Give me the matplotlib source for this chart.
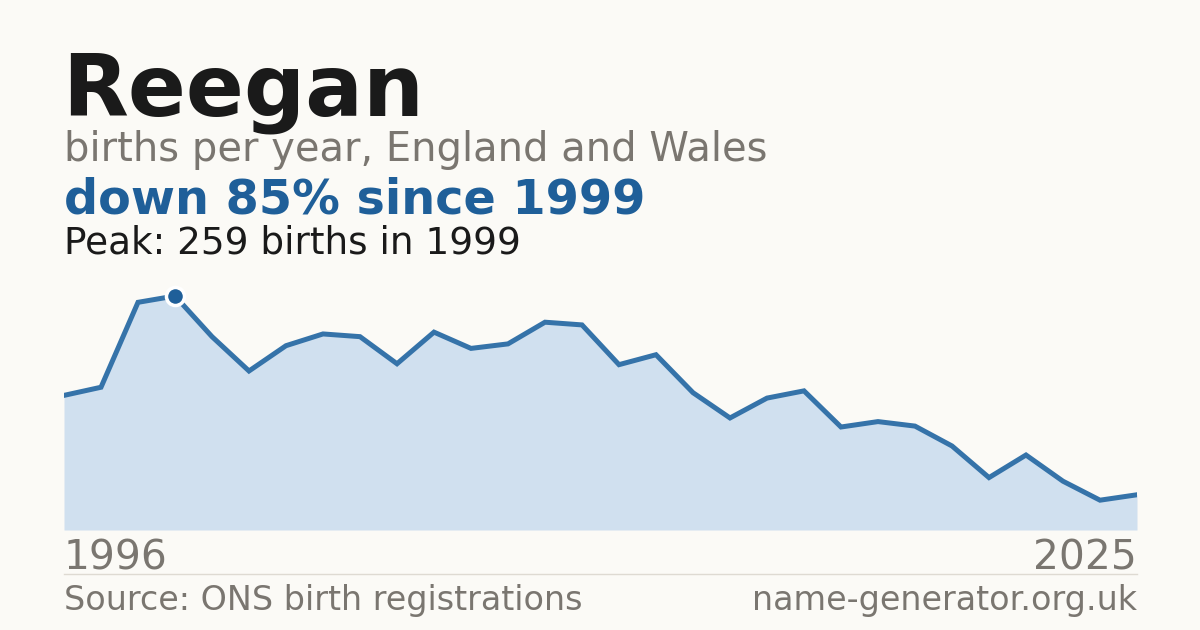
import matplotlib
matplotlib.use("Agg")
import matplotlib.pyplot as plt
import numpy as np

years = np.arange(1996, 2026)
births = [149, 158, 252, 259, 214, 176, 204, 217, 214, 184,
          219, 201, 206, 230, 227, 183, 194, 152, 124, 146,
          154, 114, 120, 115, 93, 58, 83, 54, 33, 39]
name = "Reegan"
subtitle = "births per year, England and Wales"
headline = "down 85% since 1999"
peak_text = "Peak: 259 births in 1999"
source = "Source: ONS birth registrations"
site = "name-generator.org.uk"

bg = "#fbfaf6"
W, H = 1200, 630
fig = plt.figure(figsize=(12, 6.3), dpi=100, facecolor=bg)

def px(x, y):
    # pixel coords (from top-left) to figure fraction
    return x / W, 1 - y / H

# plot area: x 64..1137, y 280..530 px
ax = fig.add_axes([64 / W, 100 / H, (1137 - 64) / W, 250 / H])
ax.set_facecolor(bg)
ax.fill_between(years, births, 0, color="#d0e0ef", lw=0)
ax.plot(years, births, color="#3573a9", lw=3.6, solid_joinstyle="miter")
pk = int(np.argmax(births))
ax.plot(years[pk], births[pk], "o", ms=13, color="#1f5f99",
        mec="white", mew=2.5, clip_on=False, zorder=5)
ax.set_xlim(years[0], years[-1])
ax.set_ylim(0, max(births) * 250 / 234)
ax.axis("off")

grey = "#7a7670"
fig.text(*px(62, 116), name, fontsize=61.7, fontweight="bold", color="#1a1a1a", va="baseline")
fig.text(*px(64, 161), subtitle, fontsize=28.8, color=grey, va="baseline")
fig.text(*px(64, 214), headline, fontsize=34.4, fontweight="bold", color="#1f5f99", va="baseline")
fig.text(*px(64, 254), peak_text, fontsize=26.9, color="#1a1a1a", va="baseline")
fig.text(*px(64, 569), str(years[0]), fontsize=29.3, color=grey, va="baseline")
fig.text(*px(1137, 569), str(years[-1]), fontsize=29.3, color=grey, va="baseline", ha="right")
fig.add_artist(plt.Line2D([64 / W, 1137 / W], [1 - 574 / H] * 2, color="#dedad2", lw=1))
fig.text(*px(64, 610), source, fontsize=24, color=grey, va="baseline")
fig.text(*px(1137, 610), site, fontsize=24, color=grey, va="baseline", ha="right")

fig.savefig("out.png", dpi=100, facecolor=bg)
